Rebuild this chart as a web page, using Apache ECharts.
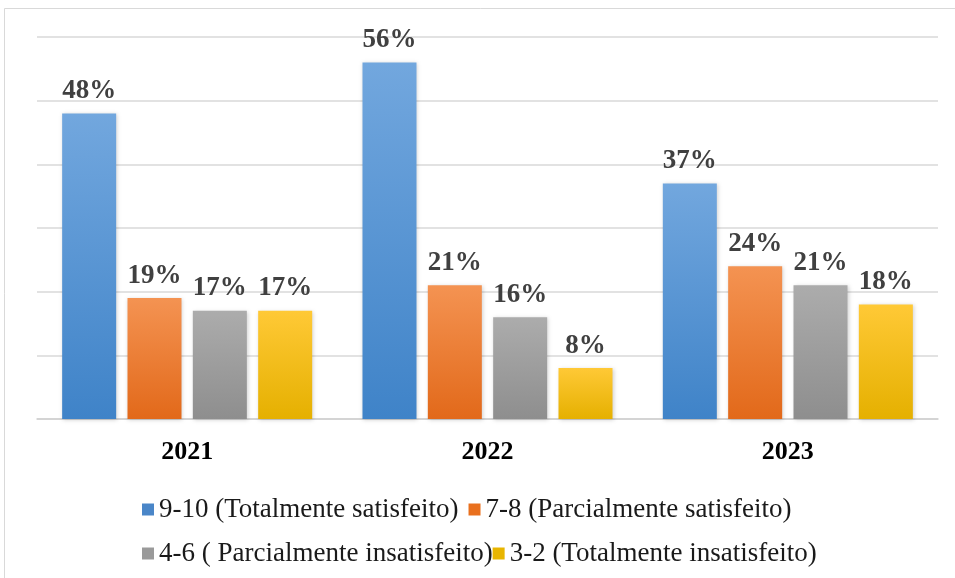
<!DOCTYPE html>
<html><head><meta charset="utf-8">
<script src="https://cdn.jsdelivr.net/npm/echarts@6/dist/echarts.min.js"></script>
<style>html,body{margin:0;padding:0;background:#fff}#c{width:955px;height:578px}</style>
</head><body><div id="c"></div>
<script>
const categories = ['2021', '2022', '2023'];
const seriesNames = ['9-10 (Totalmente satisfeito)', '7-8 (Parcialmente satisfeito)', '4-6 ( Parcialmente insatisfeito)', '3-2 (Totalmente insatisfeito)'];
const totalSatisfeito = [48, 56, 37];
const parcialSatisfeito = [19, 21, 24];
const parcialInsatisfeito = [17, 16, 21];
const totalInsatisfeito = [17, 8, 18];
const values = [totalSatisfeito, parcialSatisfeito, parcialInsatisfeito, totalInsatisfeito];
const gradients = [['#72a7de', '#3f83c8'], ['#f49352', '#e2691a'], ['#acacac', '#8e8e8e'], ['#ffc936', '#e5b000']];
const solid = ['#4a86c8', '#e9701e', '#9a9a9a', '#e8b500'];
const serif = 'Liberation Serif, Times New Roman, serif';

const legendItems = seriesNames.map((n, i) => ({name: n, itemStyle: {color: solid[i], shadowBlur: 0, shadowOffsetX: 0, shadowOffsetY: 0}}));
const legendText = {fontFamily: serif, fontSize: 27, color: '#1a1a1a'};

const chart = echarts.init(document.getElementById('c'));
chart.setOption({
  animation: false,
  graphic: [{type: 'rect', shape: {x: 4.5, y: 8.5, width: 960, height: 580}, style: {fill: 'none', stroke: '#d9d9d9', lineWidth: 1}}],
  grid: {left: 37, right: 17, top: 37, bottom: 159},
  legend: [
    {data: legendItems.slice(0, 2), left: 137, top: 491, itemWidth: 12, itemHeight: 12, itemGap: 10,
     textStyle: legendText, icon: 'rect'},
    {data: legendItems.slice(2, 4), left: 137, top: 535, itemWidth: 12, itemHeight: 12, itemGap: 0,
     textStyle: legendText, icon: 'rect'}
  ],
  xAxis: {type: 'category', data: categories,
    axisLine: {lineStyle: {color: '#d0d0d0', width: 1.5}}, axisTick: {show: false},
    axisLabel: {fontFamily: serif, fontWeight: 'bold', fontSize: 26, color: '#000', margin: 20}},
  yAxis: {type: 'value', min: 0, max: 60, interval: 10,
    axisLabel: {show: false}, axisLine: {show: false}, axisTick: {show: false},
    splitLine: {lineStyle: {color: '#d9d9d9', width: 1.5}}},
  series: values.map((v, i) => ({
    name: seriesNames[i], type: 'bar', data: v, barWidth: 54, barGap: '21%',
    itemStyle: {
      color: {type: 'linear', x: 0, y: 0, x2: 0, y2: 1, colorStops: [{offset: 0, color: gradients[i][0]}, {offset: 1, color: gradients[i][1]}]},
      shadowColor: 'rgba(0,0,0,0.18)', shadowBlur: 4, shadowOffsetX: 1, shadowOffsetY: 1
    },
    label: {show: true, position: 'top', distance: 9, formatter: '{c}%', fontFamily: serif, fontWeight: 'bold', fontSize: 27, color: '#404040'}
  }))
});
</script></body></html>
